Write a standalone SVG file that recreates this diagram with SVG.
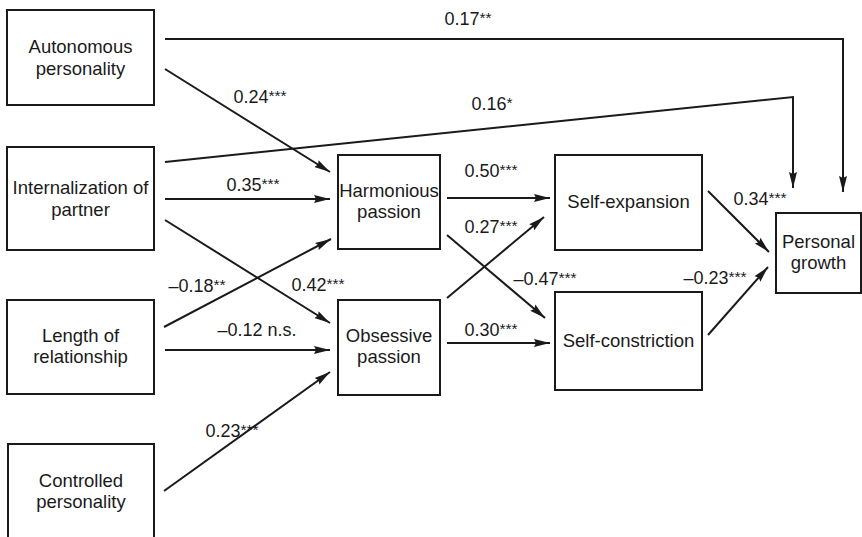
<svg xmlns="http://www.w3.org/2000/svg" width="862" height="537" viewBox="0 0 862 537">
<defs>
<marker id="arr" markerUnits="userSpaceOnUse" markerWidth="18" markerHeight="12" refX="16" refY="5" orient="auto">
<path d="M0,1 L16,5 L0,9 L2,5 z" fill="#1a1a1a"/>
</marker>
<style>
.box{fill:#fff;stroke:#1a1a1a;stroke-width:2}
.t{font-family:"Liberation Sans",Arial,sans-serif;font-size:18.5px;fill:#1a1a1a;text-anchor:middle}
.l{font-family:"Liberation Sans",Arial,sans-serif;font-size:18px;fill:#1a1a1a;text-anchor:middle}
.s{font-size:15.5px}
.c{fill:none;stroke:#1a1a1a;stroke-width:2}
.a{marker-end:url(#arr)}
</style>
</defs>
<rect width="862" height="537" fill="#fff"/>
<g id="connectors">
<polyline class="c a" points="165,39 843,39 843,192"/>
<line class="c a" x1="165" y1="69" x2="330" y2="172"/>
<polyline class="c a" points="165,162 793,97 793,188"/>
<line class="c a" x1="165" y1="199" x2="330" y2="199"/>
<line class="c a" x1="165" y1="220" x2="330" y2="323"/>
<line class="c a" x1="164" y1="327" x2="331" y2="239"/>
<line class="c a" x1="165" y1="350" x2="330" y2="350"/>
<line class="c a" x1="164" y1="491" x2="330" y2="372"/>
<line class="c a" x1="447" y1="198" x2="550" y2="198"/>
<line class="c a" x1="447" y1="298" x2="544" y2="217"/>
<line class="c a" x1="447" y1="235" x2="545" y2="318"/>
<line class="c a" x1="447" y1="343" x2="550" y2="343"/>
<line class="c a" x1="708" y1="191" x2="769" y2="252"/>
<line class="c a" x1="708" y1="335" x2="768" y2="267"/>
<text class="l" x="468" y="25">0.17<tspan class="s" dy="-2">**</tspan></text>
<text class="l" x="260" y="103">0.24<tspan class="s" dy="-2">***</tspan></text>
<text class="l" x="492" y="110">0.16<tspan class="s" dy="-2">*</tspan></text>
<text class="l" x="253" y="191">0.35<tspan class="s" dy="-2">***</tspan></text>
<text class="l" x="318" y="291">0.42<tspan class="s" dy="-2">***</tspan></text>
<text class="l" x="197" y="292">–0.18<tspan class="s" dy="-2">**</tspan></text>
<text class="l" x="257" y="336">–0.12 n.s.</text>
<text class="l" x="232" y="437">0.23<tspan class="s" dy="-2">***</tspan></text>
<text class="l" x="491" y="177">0.50<tspan class="s" dy="-2">***</tspan></text>
<text class="l" x="491" y="233">0.27<tspan class="s" dy="-2">***</tspan></text>
<text class="l" x="545" y="285">–0.47<tspan class="s" dy="-2">***</tspan></text>
<text class="l" x="491" y="336">0.30<tspan class="s" dy="-2">***</tspan></text>
<text class="l" x="760" y="205">0.34<tspan class="s" dy="-2">***</tspan></text>
<text class="l" x="715" y="284">–0.23<tspan class="s" dy="-2">***</tspan></text>
</g>
<g id="autonomous">
<rect class="box" x="7" y="10" width="147" height="95"/>
<text class="t" x="80.5" y="53">Autonomous</text>
<text class="t" x="80.5" y="75">personality</text>
</g>
<g id="internalization">
<rect class="box" x="7" y="147" width="147" height="103"/>
<text class="t" x="80.5" y="194">Internalization of</text>
<text class="t" x="80.5" y="216">partner</text>
</g>
<g id="length">
<rect class="box" x="7" y="300" width="147" height="94"/>
<text class="t" x="80.5" y="342">Length of</text>
<text class="t" x="80.5" y="363">relationship</text>
</g>
<g id="controlled">
<rect class="box" x="8" y="444" width="146" height="110"/>
<text class="t" x="81" y="487">Controlled</text>
<text class="t" x="81" y="508">personality</text>
</g>
<g id="harmonious">
<rect class="box" x="338" y="155" width="102" height="94"/>
<text class="t" x="389" y="197">Harmonious</text>
<text class="t" x="389" y="218">passion</text>
</g>
<g id="obsessive">
<rect class="box" x="338" y="300" width="102" height="95"/>
<text class="t" x="389" y="342">Obsessive</text>
<text class="t" x="389" y="363">passion</text>
</g>
<g id="selfexpansion">
<rect class="box" x="555" y="155" width="147" height="95"/>
<text class="t" x="628.5" y="208">Self-expansion</text>
</g>
<g id="selfconstriction">
<rect class="box" x="555" y="292" width="147" height="98"/>
<text class="t" x="628.5" y="347">Self-constriction</text>
</g>
<g id="growth">
<rect class="box" x="776" y="213" width="85" height="80"/>
<text class="t" x="818.5" y="248">Personal</text>
<text class="t" x="818.5" y="269">growth</text>
</g>
</svg>
